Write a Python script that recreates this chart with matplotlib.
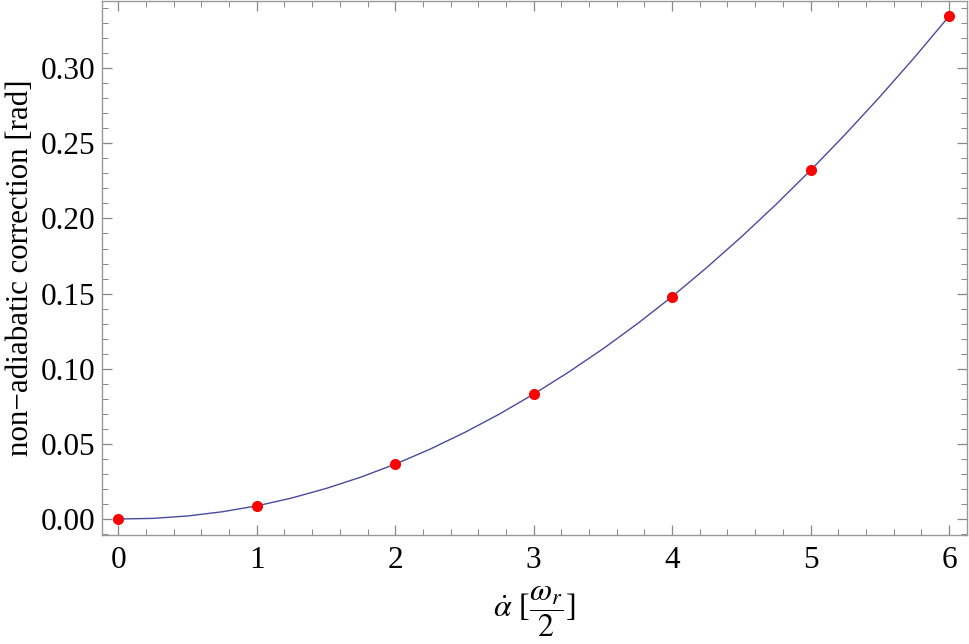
import matplotlib.pyplot as plt
from matplotlib.ticker import MultipleLocator, FormatStrFormatter

plt.rcParams['font.family'] = ['Liberation Serif', 'DejaVu Serif']
plt.rcParams['mathtext.fontset'] = 'stix'

# computed points
alpha_dot = [0, 1, 2, 3, 4, 5, 6]
correction = [0.0, 0.0087, 0.0365, 0.0831, 0.148, 0.232, 0.3345]

# fitted curve at quarter steps
curve_x = [0, 0.25, 0.5, 0.75, 1, 1.25, 1.5, 1.75, 2, 2.25, 2.5, 2.75, 3,
           3.25, 3.5, 3.75, 4, 4.25, 4.5, 4.75, 5, 5.25, 5.5, 5.75, 6]
curve_y = [0.0, 0.0004, 0.0020, 0.0048, 0.0087, 0.0139, 0.0203, 0.0278,
           0.0365, 0.0464, 0.0575, 0.0697, 0.0831, 0.0976, 0.1132, 0.1300,
           0.148, 0.1673, 0.1877, 0.2093, 0.232, 0.2559, 0.2809, 0.3071,
           0.3345]

fig = plt.figure(figsize=(9.69, 6.44), dpi=100)
ax = fig.add_axes([102 / 969, 1 - 535 / 644, 865 / 969, 534 / 644])

ax.plot(curve_x, curve_y, color='#4a4aa0', lw=1.0, zorder=2)
ax.plot(alpha_dot, correction, 'o', color='#ff0000', markersize=8,
        markeredgewidth=0, zorder=3)

ax.set_xlim(-0.118, 6.13)
ax.set_ylim(-0.01065, 0.3447)

ax.xaxis.set_major_locator(MultipleLocator(1))
ax.xaxis.set_minor_locator(MultipleLocator(0.2))
ax.yaxis.set_major_locator(MultipleLocator(0.05))
ax.yaxis.set_minor_locator(MultipleLocator(0.01))
ax.yaxis.set_major_formatter(FormatStrFormatter('%.2f'))

ax.tick_params(which='both', direction='in', top=True, right=True,
               color='#888888', labelsize=22.5)
ax.tick_params(which='major', length=7, width=0.9)
ax.tick_params(which='minor', length=4, width=0.7)
ax.tick_params(axis='x', pad=8)
ax.tick_params(axis='y', pad=5)

for s in ax.spines.values():
    s.set_color('#999999')
    s.set_linewidth(1.0)

ax.set_xlabel(r'$\dot{\alpha}$ [$\dfrac{\omega_r}{2}$]', fontsize=23, labelpad=7)
ax.set_ylabel('non\u2212adiabatic correction [rad]', fontsize=22.3, labelpad=4)

fig.savefig('out.png', dpi=100)
